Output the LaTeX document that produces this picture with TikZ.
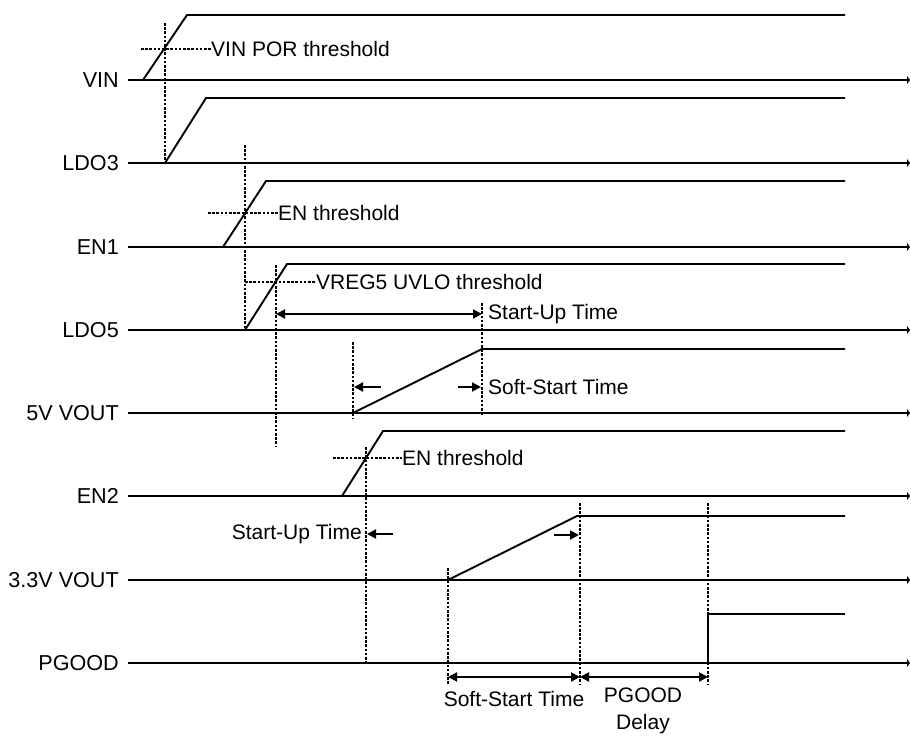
\documentclass[tikz,border=0pt]{standalone}
\usepackage{fontspec}
\setmainfont{Liberation Sans}
\usetikzlibrary{arrows.meta}
\begin{document}
\begin{tikzpicture}[x=1pt,y=-1pt,
  sig/.style={line width=1.9pt},
  axisline/.style={line width=1.9pt,-{Triangle[length=3pt,width=8pt]}},
  dotline/.style={line width=2.4pt,dash pattern=on 2.6pt off 1.6pt},
  dimline/.style={line width=1.9pt,{Triangle[length=9pt,width=9pt]}-{Triangle[length=9pt,width=9pt]}},
  arrline/.style={line width=1.9pt,-{Triangle[length=9pt,width=9pt]}},
  lbl/.style={font=\fontsize{21}{27}\selectfont,inner sep=0pt},
  signame/.style={lbl,font=\fontsize{21.6}{27}\selectfont,anchor=east,inner xsep=9pt}
]
\useasboundingbox (0,0) rectangle (911,738);

% signal names and axes
\node[signame] (nVIN)  at (128,80)  {VIN};
\node[signame] (nLDO3) at (128,163) {LDO3};
\node[signame] (nEN1)  at (128,247) {EN1};
\node[signame] (nLDO5) at (128,330) {LDO5};
\node[signame] (n5V)   at (128,413) {5V VOUT};
\node[signame] (nEN2)  at (128,496) {EN2};
\node[signame] (n33V)  at (128,580) {3.3V VOUT};
\node[signame] (nPG)   at (128,663) {PGOOD};
\coordinate (eVIN)  at (910,80);
\coordinate (eLDO3) at (910,163);
\coordinate (eEN1)  at (910,247);
\coordinate (eLDO5) at (910,330);
\coordinate (e5V)   at (910,413);
\coordinate (eEN2)  at (910,496);
\coordinate (e33V)  at (910,580);
\coordinate (ePG)   at (910,663);
\foreach \s in {VIN,LDO3,EN1,LDO5,5V,EN2,33V,PG}
  \draw[axisline] (n\s.east) -- (e\s);

% VIN
\coordinate (vin0) at (143,80);
\coordinate (vin1) at (187,15);
\coordinate (vin2) at (845,15);
\draw[sig] (vin0) -- (vin1) -- (vin2);
\node[lbl,anchor=west] (tVIN) at (211,49) {VIN POR threshold};
\coordinate (hVIN) at (141,49);
\draw[dotline] (hVIN) -- (tVIN.west);
\coordinate (vA0) at (165,23);
\coordinate (vA1) at (165,163);
\draw[dotline] (vA0) -- (vA1);

% LDO3
\coordinate (l30) at (165,163);
\coordinate (l31) at (206,98);
\coordinate (l32) at (845,98);
\draw[sig] (l30) -- (l31) -- (l32);
\coordinate (vB0) at (245,145);
\coordinate (vB1) at (245,330);
\draw[dotline] (vB0) -- (vB1);

% EN1
\coordinate (e10) at (223,247);
\coordinate (e11) at (266,181);
\coordinate (e12) at (845,181);
\draw[sig] (e10) -- (e11) -- (e12);
\node[lbl,anchor=west] (tEN1) at (278,213) {EN threshold};
\coordinate (hEN1) at (208,213);
\draw[dotline] (hEN1) -- (tEN1.west);

% LDO5
\coordinate (l50) at (245,330);
\coordinate (l51) at (287,264);
\coordinate (l52) at (845,264);
\draw[sig] (l50) -- (l51) -- (l52);
\node[lbl,anchor=west] (tUV) at (316,282) {VREG5 UVLO threshold};
\coordinate (hUV) at (245,282);
\draw[dotline] (hUV) -- (tUV.west);
\coordinate (vC0) at (276,265);
\coordinate (vC1) at (276,447);
\draw[dotline] (vC0) -- (vC1);
\coordinate (vD0) at (482,303);
\coordinate (vD1) at (482,416);
\draw[dotline] (vD0) -- (vD1);
\coordinate (su0) at (276,314);
\coordinate (su1) at (482,314);
\draw[dimline] (su0) -- (su1);
\node[lbl,anchor=west] (tSU1) at (488,314) {Start-Up Time};

% 5V VOUT
\coordinate (f0) at (353,413);
\coordinate (f1) at (482,349);
\coordinate (f2) at (845,349);
\draw[sig] (f0) -- (f1) -- (f2);
\coordinate (vE0) at (353,342);
\coordinate (vE1) at (353,418);
\draw[dotline] (vE0) -- (vE1);
\coordinate (a10) at (381,387);
\coordinate (a11) at (354,387);
\draw[arrline] (a10) -- (a11);
\coordinate (a20) at (458,387);
\coordinate (a21) at (481,387);
\draw[arrline] (a20) -- (a21);
\node[lbl,anchor=west] (tSS1) at (488,387) {Soft-Start Time};

% EN2
\coordinate (e20) at (342,496);
\coordinate (e21) at (383,431);
\coordinate (e22) at (845,431);
\draw[sig] (e20) -- (e21) -- (e22);
\node[lbl,anchor=west] (tEN2) at (402,458) {EN threshold};
\coordinate (hEN2) at (333,458);
\draw[dotline] (hEN2) -- (tEN2.west);
\coordinate (vF0) at (366,447);
\coordinate (vF1) at (366,663);
\draw[dotline] (vF0) -- (vF1);
\node[lbl,anchor=east] (tSU2) at (362,534) {Start-Up Time};
\coordinate (a30) at (393,534);
\coordinate (a31) at (367,534);
\draw[arrline] (a30) -- (a31);

% 3.3V VOUT
\coordinate (t0) at (448,580);
\coordinate (t1) at (577,516);
\coordinate (t2) at (845,516);
\draw[sig] (t0) -- (t1) -- (t2);
\coordinate (vG0) at (448,568);
\coordinate (vG1) at (448,685);
\draw[dotline] (vG0) -- (vG1);
\coordinate (vH0) at (580,503);
\coordinate (vH1) at (580,685);
\draw[dotline] (vH0) -- (vH1);
\coordinate (vI0) at (708,503);
\coordinate (vI1) at (708,685);
\draw[dotline] (vI0) -- (vI1);
\coordinate (a40) at (554,535);
\coordinate (a41) at (579,535);
\draw[arrline] (a40) -- (a41);

% PGOOD
\coordinate (p0) at (708,663);
\coordinate (p1) at (708,614);
\coordinate (p2) at (845,614);
\draw[sig] (p0) -- (p1) -- (p2);

% bottom dimensions
\coordinate (d0) at (448,677);
\coordinate (d1) at (580,677);
\coordinate (d2) at (708,677);
\draw[dimline] (d0) -- (d1);
\draw[dimline] (d1) -- (d2);
\node[lbl] (tSS2) at (514,699) {Soft-Start Time};
\node[lbl,align=center] (tPGD) at (643,711) {PGOOD\\Delay};
\end{tikzpicture}
\end{document}
